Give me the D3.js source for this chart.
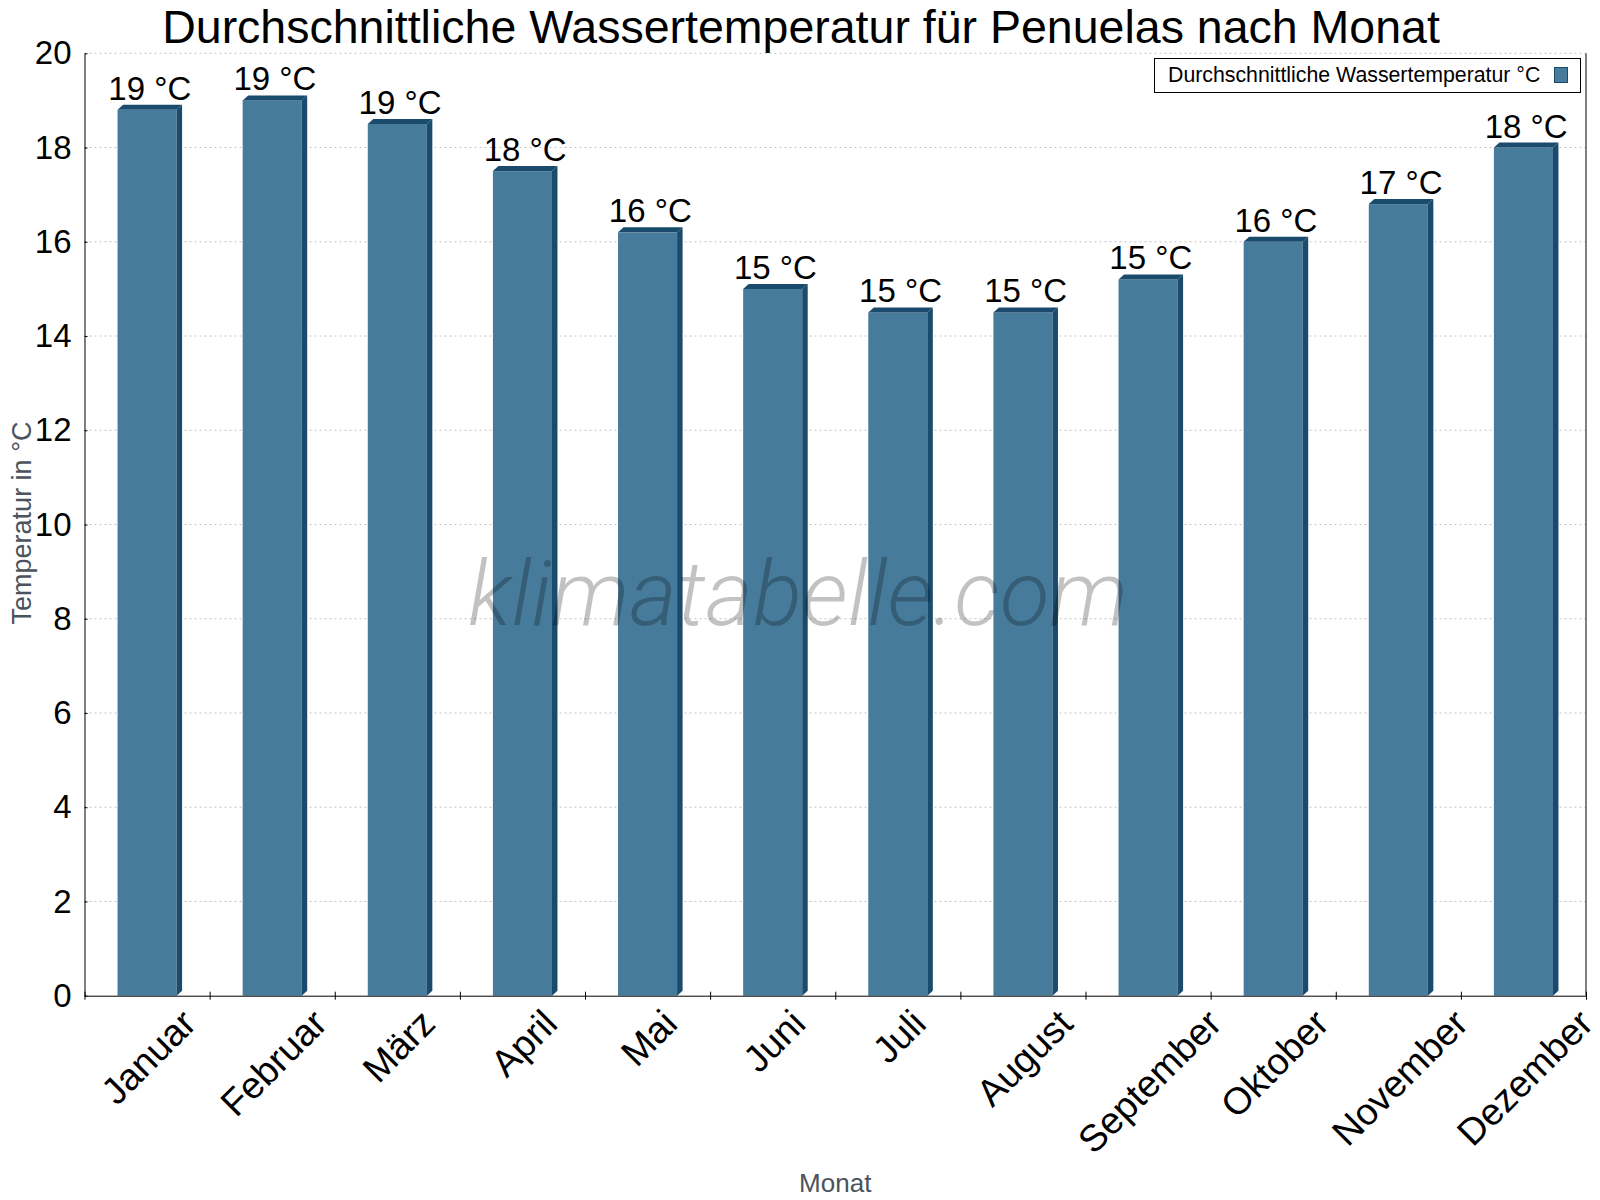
<!DOCTYPE html>
<html>
<head>
<meta charset="utf-8">
<script src="https://cdn.jsdelivr.net/npm/d3@7"></script>
<style>
  body { margin: 0; background: #fff; }
  svg { display: block; font-family: "Liberation Sans", Arial, sans-serif; }
</style>
</head>
<body>
<div id="chart"></div>
<script>
// Daten
const months = ["Januar", "Februar", "März", "April", "Mai", "Juni", "Juli",
  "August", "September", "Oktober", "November", "Dezember"];
const waterTemp = [18.8, 19.0, 18.5, 17.5, 16.2, 15.0, 14.5, 14.5, 15.2, 16.0, 16.8, 18.0];
const yTicks = [0, 2, 4, 6, 8, 10, 12, 14, 16, 18, 20];

const titleText = "Durchschnittliche Wassertemperatur für Penuelas nach Monat";
const legendText = "Durchschnittliche Wassertemperatur °C";

// Einstellungen
const W = 1600, H = 1200;
const plotLeft = 84.5, plotRight = 1586, plotTop = 53.3, plotBottom = 995.7;
const frontColor = "#467b9b", darkColor = "#1a4b6c";
const depthX = 5.5, depthY = 5;

const svg = d3.select("#chart").append("svg")
  .attr("width", W)
  .attr("height", H);

svg.append("rect").attr("width", W).attr("height", H).attr("fill", "#fff");

const x = d3.scaleBand().domain(months).range([plotLeft, plotRight]).padding(0);
const xEdges = d3.scaleLinear().domain([0, months.length]).range([plotLeft, plotRight]);
const y = d3.scaleLinear().domain([0, 20]).range([plotBottom, plotTop]);

// Gitternetz
svg.append("g")
  .selectAll("line")
  .data(yTicks.filter(d => d > 0))
  .join("line")
  .attr("x1", plotLeft)
  .attr("x2", plotRight)
  .attr("y1", d => y(d))
  .attr("y2", d => y(d))
  .attr("stroke", "#c4c4c4")
  .attr("stroke-width", 1)
  .attr("stroke-dasharray", "2,3");

// Balken (3D)
const frontW = x.bandwidth() * 0.472;
const bars = svg.append("g")
  .selectAll("g")
  .data(months.map((m, i) => ({ month: m, value: waterTemp[i] })))
  .join("g");

bars.each(function(d) {
  const g = d3.select(this);
  const x0 = x(d.month) + (x.bandwidth() - frontW) / 2;
  const x1 = x0 + frontW;
  const yt = y(d.value), yb = y(0);
  g.append("rect")
    .attr("x", x0).attr("y", yt)
    .attr("width", frontW).attr("height", yb - yt)
    .attr("fill", frontColor);
  g.append("polygon")
    .attr("points", [[x0, yt], [x0 + depthX, yt - depthY], [x1 + depthX, yt - depthY], [x1, yt]].join(" "))
    .attr("fill", darkColor);
  g.append("polygon")
    .attr("points", [[x1, yt], [x1 + depthX, yt - depthY], [x1 + depthX, yb - depthY], [x1, yb]].join(" "))
    .attr("fill", darkColor);
});

// Wasserzeichen
svg.append("text")
  .attr("x", 468)
  .attr("y", 625)
  .attr("textLength", 660)
  .attr("lengthAdjust", "spacingAndGlyphs")
  .style("font-family", "Roboto, sans-serif")
  .style("font-weight", 300)
  .style("font-style", "italic")
  .style("font-size", "91px")
  .attr("fill", "#000")
  .attr("fill-opacity", 0.24)
  .text("klimatabelle.com");

// Werte über den Balken
bars.append("text")
  .attr("x", d => x(d.month) + x.bandwidth() / 2 + depthX / 2)
  .attr("y", d => y(d.value) - 10)
  .attr("text-anchor", "middle")
  .style("font-size", "33px")
  .attr("fill", "#000")
  .text(d => `${Math.round(d.value)} °C`);

// Y-Achse
const yAxis = svg.append("g")
  .attr("transform", `translate(${plotLeft},0)`)
  .call(d3.axisLeft(y).tickValues(yTicks).tickSize(5).tickSizeOuter(0).tickPadding(8));
yAxis.select(".domain").attr("stroke", "#000");
yAxis.selectAll(".tick line").attr("x2", 3).attr("stroke", "#000");
yAxis.selectAll(".tick text")
  .style("font-size", "33px")
  .style("font-family", "Liberation Sans, Arial, sans-serif")
  .attr("fill", "#000");

// X-Achse
const xAxis = svg.append("g")
  .attr("transform", `translate(0,${plotBottom})`)
  .call(d3.axisBottom(xEdges).tickValues(d3.range(months.length + 1)).tickFormat("").tickSize(4).tickSizeOuter(0));
xAxis.select(".domain").attr("stroke", "#000");
xAxis.selectAll(".tick line").attr("y1", -4).attr("stroke", "#000");

// Rechte Begrenzung
svg.append("line")
  .attr("x1", plotRight).attr("x2", plotRight)
  .attr("y1", plotTop).attr("y2", plotBottom)
  .attr("stroke", "#000");

// Monatsbeschriftung (gedreht)
const xLabelSize = 37.5;
const capH = xLabelSize * 0.62;
svg.append("g")
  .selectAll("text")
  .data(months)
  .join("text")
  .attr("text-anchor", "middle")
  .attr("dy", "0.36em")
  .style("font-size", xLabelSize + "px")
  .attr("fill", "#000")
  .text(d => d)
  .attr("transform", function(d) {
    const w = this.getComputedTextLength();
    const cy = 1008 + Math.SQRT1_2 * (w + capH) / 2;
    return `translate(${x(d) + x.bandwidth() / 2 + 1},${cy}) rotate(-45)`;
  });

// Achsentitel
svg.append("text")
  .attr("transform", `translate(31,523) rotate(-90)`)
  .attr("text-anchor", "middle")
  .style("font-size", "27px")
  .attr("fill", "#4b535c")
  .text("Temperatur in °C");

svg.append("text")
  .attr("x", (plotLeft + plotRight) / 2)
  .attr("y", 1192)
  .attr("text-anchor", "middle")
  .style("font-size", "26px")
  .attr("fill", "#4b535c")
  .text("Monat");

// Titel
svg.append("text")
  .attr("x", 801)
  .attr("y", 42.5)
  .attr("text-anchor", "middle")
  .style("font-size", "46.5px")
  .attr("fill", "#000")
  .text(titleText);

// Legende
const legend = svg.append("g");
legend.append("rect")
  .attr("x", 1154.5).attr("y", 58.5)
  .attr("width", 426).attr("height", 34)
  .attr("fill", "#fff")
  .attr("stroke", "#000");
legend.append("text")
  .attr("x", 1168)
  .attr("y", 82)
  .style("font-size", "21.3px")
  .attr("fill", "#000")
  .text(legendText);
legend.append("rect")
  .attr("x", 1554.5).attr("y", 67.5)
  .attr("width", 13).attr("height", 15)
  .attr("fill", frontColor)
  .attr("stroke", darkColor);
</script>
</body>
</html>
